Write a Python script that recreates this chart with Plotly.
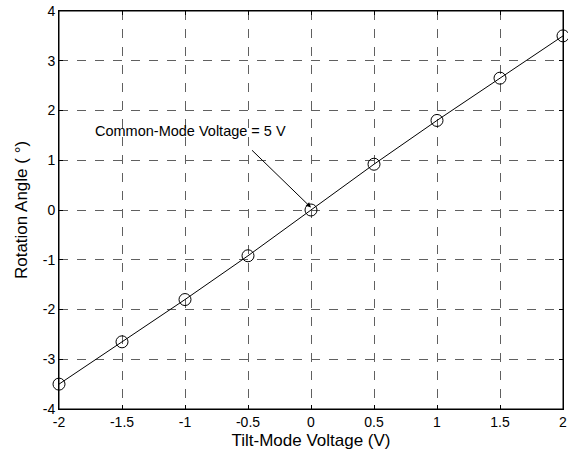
import plotly.graph_objects as go

x_vals = [-2, -1.5, -1, -0.5, 0, 0.5, 1, 1.5, 2]
y_vals = [-3.5, -2.65, -1.8, -0.92, 0, 0.92, 1.8, 2.65, 3.5]
x_ticks = [-2, -1.5, -1, -0.5, 0, 0.5, 1, 1.5, 2]
y_ticks = [-4, -3, -2, -1, 0, 1, 2, 3, 4]

FONT = "Liberation Sans, Arial, sans-serif"

fig = go.Figure()
fig.add_trace(go.Scatter(
    x=x_vals, y=y_vals, mode="lines+markers",
    line=dict(color="black", width=1),
    marker=dict(symbol="circle-open", size=12, color="black", line=dict(width=1)),
    showlegend=False, cliponaxis=False,
))

axis_common = dict(
    showgrid=True, gridcolor="#606060", griddash="dash", gridwidth=1,
    zeroline=False, showline=True, linecolor="black", linewidth=1, mirror="ticks",
    ticks="inside", ticklen=4, tickcolor="black", automargin=False,
    tickfont=dict(family=FONT, size=14, color="black"),
)

fig.update_xaxes(range=[-2, 2], tickvals=x_ticks, ticktext=[f"{v:g}" for v in x_ticks],
                 title=dict(text="Tilt-Mode Voltage (V)", font=dict(family=FONT, size=17, color="black"), standoff=5),
                 **axis_common)
fig.update_yaxes(range=[-4, 4], tickvals=y_ticks, ticktext=[f"{v:g}" for v in y_ticks],
                 title=dict(text="Rotation Angle ( °)", font=dict(family=FONT, size=17, color="black"), standoff=10),
                 **axis_common)

# frame around the plot area
fig.add_shape(type="rect", xref="paper", yref="paper", x0=0, y0=0, x1=1, y1=1,
              line=dict(color="black", width=1), layer="above")

fig.add_annotation(x=0, y=0.05, ax=-0.48, ay=1.23, xref="x", yref="y", axref="x", ayref="y",
                   text="", showarrow=True, arrowhead=2, arrowsize=1, arrowwidth=1, arrowcolor="black")
fig.add_annotation(x=-0.96, y=1.59, xref="x", yref="y", text="Common-Mode Voltage = 5 V",
                   showarrow=False, font=dict(family=FONT, size=14.5, color="black"))

fig.update_layout(
    width=568, height=459,
    margin=dict(l=59, r=5, t=11, b=50),
    plot_bgcolor="white", paper_bgcolor="white",
)

fig.write_html("out.html", config={"displayModeBar": False},
               post_script="document.body.style.margin='0';")
